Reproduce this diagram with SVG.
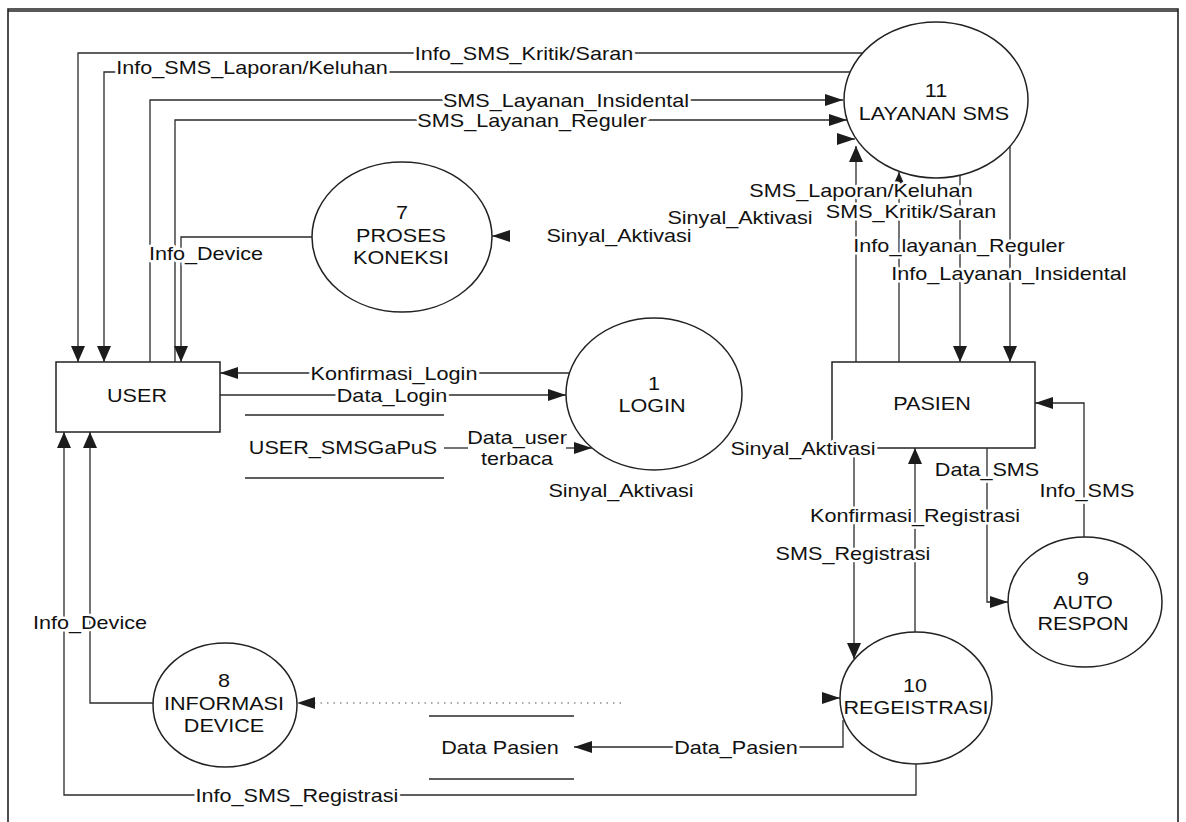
<svg xmlns="http://www.w3.org/2000/svg" width="1186" height="822" viewBox="0 0 1186 822">
<style>
text{font-family:"Liberation Sans",Arial,Helvetica,sans-serif;font-size:18px;fill:#111;text-anchor:middle}
.h{paint-order:stroke;stroke:#fff;stroke-width:5px;stroke-linejoin:round}
.ln{fill:none;stroke:#2a2a2a;stroke-width:1.3}
.dot{fill:none;stroke:#555;stroke-width:1.2;stroke-dasharray:1.5 5}
.nd{fill:#fff;stroke:#222;stroke-width:1.5}
.st{fill:none;stroke:#2a2a2a;stroke-width:1.5}
.fr{fill:none;stroke:#222;stroke-width:1.6}
.bg{fill:#fff}
</style>
<defs>
<marker id="ah" markerUnits="userSpaceOnUse" markerWidth="18" markerHeight="12" refX="18" refY="6" orient="auto"><path d="M0,0 L18,6 L0,12z" fill="#1c1c1c"/></marker>
<marker id="av" markerUnits="userSpaceOnUse" markerWidth="16" markerHeight="14" refX="16" refY="7" orient="auto"><path d="M0,0 L16,7 L0,14z" fill="#1c1c1c"/></marker>
</defs>
<rect width="1186" height="822" fill="#fff"/>
<g id="frame">
<path class="fr" d="M8,822 V9 H1178 V822"/>
<path class="fr" d="M8,11 H1178" stroke-width="1"/>
</g>

<g id="n11">
<ellipse class="nd" cx="936" cy="100" rx="92" ry="78"/>
<text transform="translate(936 96.5) scale(1.2 1)">11</text>
<text transform="translate(934 119.5) scale(1.2 1)">LAYANAN SMS</text>
</g>
<g id="n7">
<ellipse class="nd" cx="402" cy="237" rx="90" ry="75"/>
<text transform="translate(402 218.5) scale(1.2 1)">7</text>
<text transform="translate(401 241.5) scale(1.2 1)">PROSES</text>
<text transform="translate(401 263.5) scale(1.2 1)">KONEKSI</text>
</g>
<g id="user">
<rect class="nd" x="56" y="362" width="164" height="70"/>
<text transform="translate(137 401.5) scale(1.2 1)">USER</text>
</g>
<g id="n1">
<ellipse class="nd" cx="654" cy="394" rx="88" ry="76"/>
<text transform="translate(654 389.5) scale(1.2 1)">1</text>
<text transform="translate(652 411.5) scale(1.2 1)">LOGIN</text>
</g>
<g id="ds_user">
<path class="st" d="M245,415 H444 M245,478 H444"/>
<text transform="translate(343 453.5) scale(1.2 1)">USER_SMSGaPuS</text>
</g>
<g id="pasien">
<rect class="nd" x="832" y="362" width="203" height="86"/>
<text transform="translate(932 409.5) scale(1.2 1)">PASIEN</text>
</g>
<g id="n9">
<ellipse class="nd" cx="1085" cy="602" rx="77" ry="65"/>
<text transform="translate(1083 584.5) scale(1.2 1)">9</text>
<text transform="translate(1083 608.5) scale(1.2 1)">AUTO</text>
<text transform="translate(1083 629.5) scale(1.2 1)">RESPON</text>
</g>
<g id="n10">
<ellipse class="nd" cx="916" cy="698" rx="76" ry="66"/>
<text transform="translate(915 691.5) scale(1.2 1)">10</text>
<text transform="translate(916 713.5) scale(1.2 1)">REGEISTRASI</text>
</g>
<g id="n8">
<ellipse class="nd" cx="225" cy="705" rx="72" ry="62"/>
<text transform="translate(224 686.5) scale(1.2 1)">8</text>
<text transform="translate(224 709.5) scale(1.2 1)">INFORMASI</text>
<text transform="translate(224 731.5) scale(1.2 1)">DEVICE</text>
</g>
<g id="ds_pasien">
<path class="st" d="M429,716 H574 M429,779 H574"/>
<text transform="translate(500 753.5) scale(1.2 1)">Data Pasien</text>
</g>

<g id="connectors">
<path class="ln" d="M863,53 H78 V362" marker-end="url(#av)"/>
<path class="ln" d="M850,72 H104 V362" marker-end="url(#av)"/>
<path class="ln" d="M150,362 V100 H843" marker-end="url(#ah)"/>
<path class="ln" d="M175,362 V120 H847" marker-end="url(#ah)"/>
<path class="ln" d="M837,139 H855" marker-end="url(#ah)"/>
<path class="ln" d="M856,362 V146" marker-end="url(#av)"/>
<path class="ln" d="M899,362 V172" marker-end="url(#av)"/>
<path class="ln" d="M960,175 V362" marker-end="url(#av)"/>
<path class="ln" d="M1010,146 V362" marker-end="url(#av)"/>
<path class="ln" d="M312,237 H181 V362" marker-end="url(#av)"/>
<path class="ln" d="M510,236 H492" marker-end="url(#ah)"/>
<path class="ln" d="M569,373 H220" marker-end="url(#ah)"/>
<path class="ln" d="M220,395 H566" marker-end="url(#ah)"/>
<path class="ln" d="M444,448 H468"/>
<path class="ln" d="M566,448 H592" marker-end="url(#ah)"/>
<path class="ln" d="M915,632 V448" marker-end="url(#av)"/>
<path class="ln" d="M854,448 V659" marker-end="url(#av)"/>
<path class="ln" d="M987,448 V602 H1008" marker-end="url(#ah)"/>
<path class="ln" d="M1084,537 V403 H1035" marker-end="url(#ah)"/>
<path class="ln" d="M843,720 V747 H574" marker-end="url(#ah)"/>
<path class="ln" d="M916,764 V795 H64 V432" marker-end="url(#av)"/>
<path class="ln" d="M153,703 H90 V432" marker-end="url(#av)"/>
<path class="dot" d="M621,703 H297" marker-end="url(#ah)"/>
<path class="ln" d="M822,698 H840" marker-end="url(#ah)"/>

<g id="label-backs">
<rect class="bg" x="415" y="46" width="218" height="14"/>
<rect class="bg" x="117" y="64" width="270" height="13"/>
<rect class="bg" x="443" y="94" width="246" height="12"/>
<rect class="bg" x="417" y="114" width="230" height="12"/>
<rect class="bg" x="310" y="367" width="168" height="12"/>
<rect class="bg" x="337" y="389" width="110" height="12"/>
<rect class="bg" x="674" y="741" width="124" height="12"/>
<rect class="bg" x="196" y="789" width="203" height="12"/>
</g>

<text class="h" transform="translate(524 59.5) scale(1.2 1)">Info_SMS_Kritik/Saran</text>
<text class="h" transform="translate(252 73.5) scale(1.2 1)">Info_SMS_Laporan/Keluhan</text>
<text class="h" transform="translate(566 106.5) scale(1.2 1)">SMS_Layanan_Insidental</text>
<text class="h" transform="translate(532 126.5) scale(1.2 1)">SMS_Layanan_Reguler</text>
<text class="h" transform="translate(206 259.5) scale(1.2 1)">Info_Device</text>
<text class="h" transform="translate(619 241.5) scale(1.2 1)">Sinyal_Aktivasi</text>
<text class="h" transform="translate(740 223.5) scale(1.2 1)">Sinyal_Aktivasi</text>
<text class="h" transform="translate(861 196.5) scale(1.2 1)">SMS_Laporan/Keluhan</text>
<text class="h" transform="translate(911 217.5) scale(1.2 1)">SMS_Kritik/Saran</text>
<text class="h" transform="translate(959 251.5) scale(1.2 1)">Info_layanan_Reguler</text>
<text class="h" transform="translate(1009 279.5) scale(1.2 1)">Info_Layanan_Insidental</text>
<text class="h" transform="translate(394 379.5) scale(1.2 1)">Konfirmasi_Login</text>
<text class="h" transform="translate(392 401.5) scale(1.2 1)">Data_Login</text>
<text class="h" transform="translate(517 443.5) scale(1.2 1)">Data_user</text>
<text class="h" transform="translate(517 464.5) scale(1.2 1)">terbaca</text>
<text class="h" transform="translate(621 496.5) scale(1.2 1)">Sinyal_Aktivasi</text>
<text class="h" transform="translate(803 454.5) scale(1.2 1)">Sinyal_Aktivasi</text>
<text class="h" transform="translate(987 475.5) scale(1.2 1)">Data_SMS</text>
<text class="h" transform="translate(1087 496.5) scale(1.2 1)">Info_SMS</text>
<text class="h" transform="translate(915 521.5) scale(1.2 1)">Konfirmasi_Registrasi</text>
<text class="h" transform="translate(853 559.5) scale(1.2 1)">SMS_Registrasi</text>
<text class="h" transform="translate(90 628.5) scale(1.2 1)">Info_Device</text>
<text class="h" transform="translate(736 753.5) scale(1.2 1)">Data_Pasien</text>
<text class="h" transform="translate(297 801.5) scale(1.2 1)">Info_SMS_Registrasi</text>
</g>
</svg>
